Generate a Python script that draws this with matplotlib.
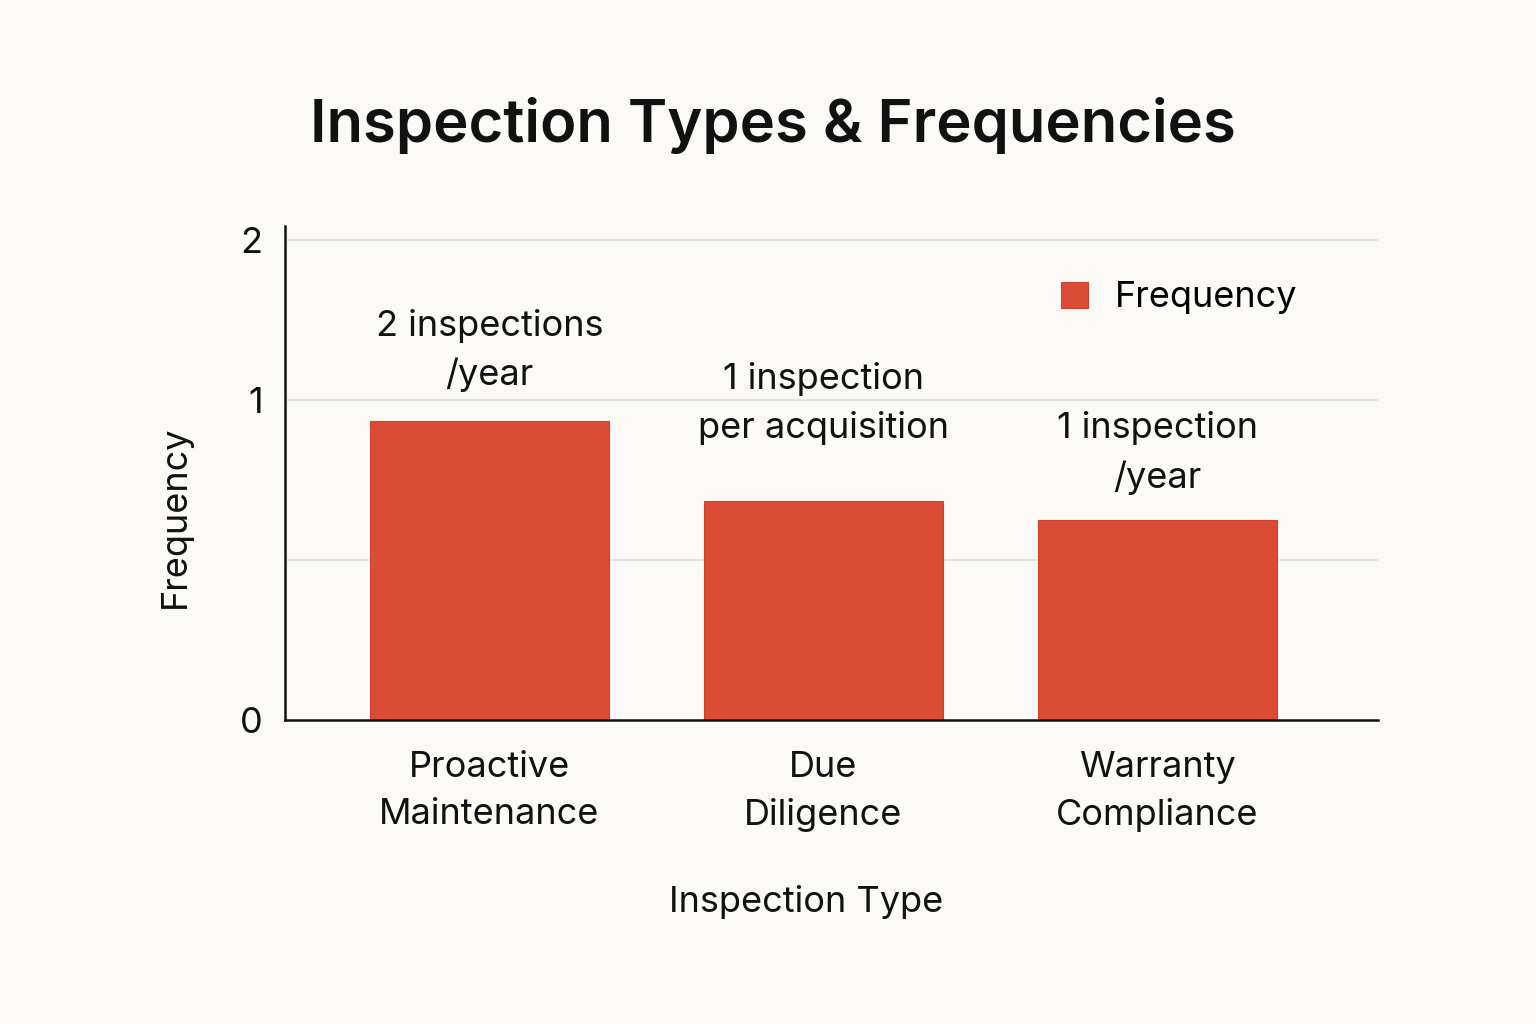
import matplotlib.pyplot as plt

# chart data (bar heights in axis units)
categories = ['Proactive\nMaintenance', 'Due\nDiligence', 'Warranty\nCompliance']
values = [1.87, 1.37, 1.25]
bar_labels = ['2 inspections\n/year', '1 inspection\nper acquisition', '1 inspection\n/year']
ytick_pos = [0, 2, 3]
ytick_labels = ['0', '1', '2']
grid_pos = [1, 2, 3]

# layout
label_y = [2.31, 1.98, 1.67]
bg = '#FCFAF6'
bar_color = '#DC4B36'
text_color = '#111111'
fs = 26

plt.rcParams['font.family'] = ['Inter', 'DejaVu Sans']

fig = plt.figure(figsize=(15.36, 10.24), dpi=100, facecolor=bg)
ax = fig.add_axes([285 / 1536, 1 - 720 / 1024, (1378 - 285) / 1536, (720 - 226) / 1024])
ax.set_facecolor(bg)

x = list(range(len(categories)))
for g in grid_pos:
    ax.axhline(g, color='#E2E2DF', lw=1.2, zorder=0)

ax.bar(x, values, width=0.716, color=bar_color, edgecolor='#C9432F', lw=0.8,
       label='Frequency', zorder=2)

for xi, ly, txt in zip(x, label_y, bar_labels):
    ax.text(xi, ly, txt, ha='center', va='center', fontsize=fs,
            color=text_color, linespacing=1.55)

ax.set_xlim(-0.612, 2.66)
ax.set_ylim(0, 494 / 160)
ax.set_xticks(x)
ax.set_xticklabels(categories, fontsize=fs, color=text_color, linespacing=1.55)
ax.set_yticks(ytick_pos)
ax.set_yticklabels(ytick_labels, fontsize=fs, color=text_color)
ax.tick_params(axis='both', length=0)
ax.tick_params(axis='x', pad=22)
ax.tick_params(axis='y', pad=16)

for side in ['top', 'right']:
    ax.spines[side].set_visible(False)
for side in ['left', 'bottom']:
    ax.spines[side].set_linewidth(1.8)
    ax.spines[side].set_color(text_color)

ax.legend(loc='center left', bbox_to_anchor=(1061 / 1536, 1 - 298 / 1024),
          bbox_transform=fig.transFigure, frameon=False, fontsize=fs,
          handlelength=0.75, handleheight=0.75, handletextpad=0.75, borderpad=0,
          borderaxespad=0)

fig.text(0.503, 1 - 126 / 1024, 'Inspection Types & Frequencies', ha='center',
         va='center', fontsize=43, fontweight='semibold', color=text_color)
fig.text(806 / 1536, 1 - 902 / 1024, 'Inspection Type', ha='center', va='center',
         fontsize=fs, color=text_color)
fig.text(175 / 1536, 1 - 517 / 1024, 'Frequency', ha='center', va='center',
         rotation=90, fontsize=fs, color=text_color)

fig.savefig('out.png', dpi=100, facecolor=bg)
